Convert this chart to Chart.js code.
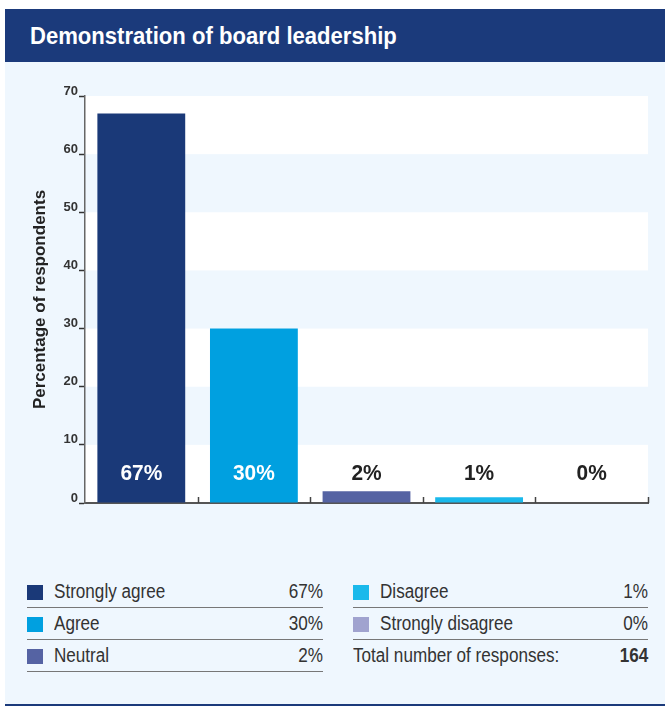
<!DOCTYPE html>
<html>
<head>
<meta charset="utf-8">
<script src="https://cdn.jsdelivr.net/npm/chart.js@4/dist/chart.umd.min.js"></script>
<style>
  body { margin: 0; background: #fff; width: 665px; height: 706px; overflow: hidden;
         font-family: 'Liberation Sans', Arial, sans-serif; }
  #panel { position: absolute; left: 5px; top: 62px; width: 660px; height: 642px; background: #eff7fe;
           border-bottom: 2px solid #1b3a7b; }
  #title { position: absolute; left: 5px; top: 9px; width: 660px; height: 53px; background: #1b3a7b; }
  #title span { position: absolute; left: 25px; top: 0; color: #fff; font-weight: bold; font-size: 24px;
                line-height: 53px; white-space: nowrap; transform: scaleX(0.92); transform-origin: left center; }
  #wrap { position: absolute; left: 0; top: 62px; width: 665px; height: 480px; }
  .row { position: absolute; height: 32px; border-bottom: 1.5px solid #777; box-sizing: border-box;
         font-size: 20px; color: #333; line-height: 30px; }
  .row.noline { border-bottom: none; }
  .sw { position: absolute; left: 0; top: 9px; width: 16px; height: 15px; }
  .lab { position: absolute; left: 27px; top: 0; white-space: nowrap; transform: scaleX(0.855); transform-origin: left center; }
  .val { position: absolute; right: 0; top: 0; white-space: nowrap; transform: scaleX(0.855); transform-origin: right center; }
</style>
</head>
<body>
<div id="panel"></div>
<div id="title"><span>Demonstration of board leadership</span></div>
<div id="wrap"><canvas id="chart" width="665" height="480"></canvas></div>
<div id="legend"></div>
<script>
const categories = ['Strongly agree', 'Agree', 'Neutral', 'Disagree', 'Strongly disagree'];
const values = [67, 30, 2, 1, 0];
const colors = ['#1a3978', '#00a0e0', '#5563a3', '#1ab9eb', '#a0a3cf'];
const labelColors = ['#ffffff', '#ffffff', '#222222', '#222222', '#222222'];
const yTicks = [0, 10, 20, 30, 40, 50, 60, 70];
const totalResponses = 164;

const FONT = '"Liberation Sans", Arial, sans-serif';

// bandes blanches alternées dans la zone du graphique
const stripes = {
  id: 'stripes',
  beforeDraw(chart) {
    const { ctx, chartArea: a, scales: { y } } = chart;
    ctx.save();
    ctx.fillStyle = '#ffffff';
    for (let i = 0; i < yTicks.length - 1; i += 2) {
      const top = y.getPixelForValue(yTicks[i + 1]);
      const bot = y.getPixelForValue(yTicks[i]);
      ctx.fillRect(a.left, top, a.right - a.left, bot - top);
    }
    ctx.restore();
  },
  afterDatasetsDraw(chart) {
    const { ctx, chartArea: a, scales: { x, y } } = chart;
    ctx.save();
    // petits traits entre catégories
    const w = (a.right - a.left) / categories.length;
    ctx.strokeStyle = '#444';
    ctx.lineWidth = 1.5;
    for (let i = 0; i < categories.length; i++) {
      const px = Math.round(x.getPixelForValue(i) + w / 2) + 0.5;
      ctx.beginPath();
      ctx.moveTo(px, a.bottom);
      ctx.lineTo(px, a.bottom - 6);
      ctx.stroke();
    }
    // étiquettes de valeurs
    ctx.font = 'bold 22px ' + FONT;
    ctx.textAlign = 'center';
    ctx.textBaseline = 'middle';
    values.forEach((v, i) => {
      ctx.save();
      ctx.translate(x.getPixelForValue(i), y.getPixelForValue(0) - 29);
      ctx.scale(0.95, 1);
      ctx.fillStyle = labelColors[i];
      ctx.fillText(v + '%', 0, 0);
      ctx.restore();
    });
    ctx.restore();
  }
};

new Chart(document.getElementById('chart'), {
  type: 'bar',
  data: {
    labels: categories,
    datasets: [{
      data: values,
      backgroundColor: colors,
      borderWidth: 0,
      categoryPercentage: 0.78,
      barPercentage: 1
    }]
  },
  options: {
    responsive: false,
    animation: false,
    devicePixelRatio: 1,
    layout: { padding: { left: 30, right: 17, top: 34, bottom: 39 } },
    plugins: { legend: { display: false }, tooltip: { enabled: false } },
    scales: {
      x: {
        grid: { display: false },
        ticks: { display: false },
        border: { color: '#555', width: 2 },
        afterFit(s) { s.height = 0; }
      },
      y: {
        min: 0,
        max: 70,
        afterBuildTicks(s) { s.ticks = yTicks.map(v => ({ value: v })); },
        grid: { drawOnChartArea: false, tickLength: 6, color: '#333', tickWidth: 1.5 },
        border: { color: '#666', width: 1.5 },
        ticks: {
          color: '#333',
          padding: 1,
          labelOffset: -5,
          font: { family: FONT, weight: 'bold', size: 13 }
        },
        title: {
          display: true,
          text: 'Percentage of respondents',
          color: '#222',
          padding: 0,
          font: { family: FONT, weight: 'bold', size: 17 }
        },
        afterFit(s) { s.width = 55; }
      }
    }
  },
  plugins: [stripes]
});

// légende en deux colonnes
const legend = document.getElementById('legend');
const cols = [{ left: 27, top: 576, width: 296 }, { left: 353, top: 576, width: 295 }];
categories.forEach((c, i) => {
  const col = cols[i < 3 ? 0 : 1];
  const div = document.createElement('div');
  div.className = 'row';
  div.style.left = col.left + 'px';
  div.style.top = (col.top + (i % 3) * 32) + 'px';
  div.style.width = col.width + 'px';
  div.innerHTML = '<span class="sw" style="background:' + colors[i] + '"></span><span class="lab">' + c +
    '</span><span class="val">' + values[i] + '%</span>';
  legend.appendChild(div);
});
const tot = document.createElement('div');
tot.className = 'row noline';
tot.style.left = cols[1].left + 'px';
tot.style.top = (cols[1].top + 2 * 32) + 'px';
tot.style.width = cols[1].width + 'px';
tot.innerHTML = '<span class="lab" style="left:0">Total number of responses:</span><span class="val" style="font-weight:bold">' + totalResponses + '</span>';
legend.appendChild(tot);
</script>
</body>
</html>
